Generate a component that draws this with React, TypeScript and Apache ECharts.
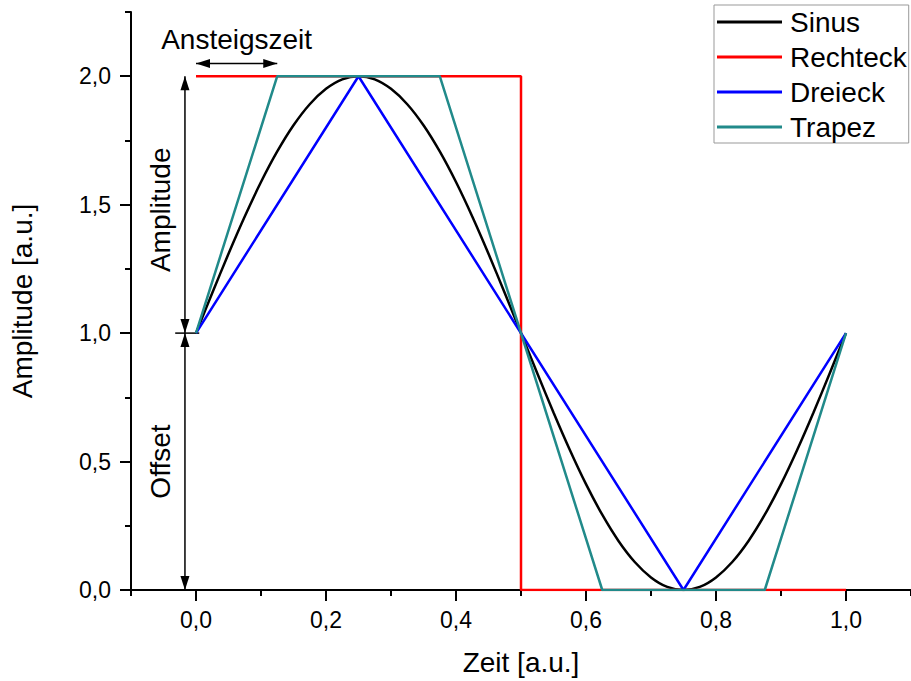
import React, { useEffect, useRef } from 'react';
import * as echarts from 'echarts';

const seriesNames = ['Sinus', 'Rechteck', 'Dreieck', 'Trapez'];
const seriesColors = ['#000000', '#ff0000', '#0000ff', '#218a8a'];

const sinusX = [0, 0.025, 0.05, 0.075, 0.1, 0.125, 0.15, 0.175, 0.2, 0.225, 0.25, 0.275, 0.3, 0.325, 0.35, 0.375, 0.4, 0.425, 0.45, 0.475, 0.5, 0.525, 0.55, 0.575, 0.6, 0.625, 0.65, 0.675, 0.7, 0.725, 0.75, 0.775, 0.8, 0.825, 0.85, 0.875, 0.9, 0.925, 0.95, 0.975, 1.0];
const sinusY = [1, 1.156, 1.309, 1.454, 1.588, 1.707, 1.809, 1.891, 1.951, 1.988, 2, 1.988, 1.951, 1.891, 1.809, 1.707, 1.588, 1.454, 1.309, 1.156, 1, 0.844, 0.691, 0.546, 0.412, 0.293, 0.191, 0.109, 0.049, 0.012, 0, 0.012, 0.049, 0.109, 0.191, 0.293, 0.412, 0.546, 0.691, 0.844, 1];

const rechteckX = [0, 0.5, 0.5, 1.0];
const rechteckY = [2, 2, 0, 0];

const dreieckX = [0, 0.25, 0.75, 1.0];
const dreieckY = [1, 2, 0, 1];

const trapezX = [0, 0.125, 0.375, 0.625, 0.875, 1.0];
const trapezY = [1, 2, 2, 0, 0, 1];

const xMajorTicks = [0, 0.2, 0.4, 0.6, 0.8, 1.0];
const xMinorTicks = [-0.1, 0.1, 0.3, 0.5, 0.7, 0.9, 1.1];
const yMajorTicks = [0, 0.5, 1.0, 1.5, 2.0];
const yMinorTicks = [0.25, 0.75, 1.25, 1.75, 2.25];

const xTitle = 'Zeit [a.u.]';
const yTitle = 'Amplitude [a.u.]';
const riseLabel = 'Ansteigszeit';
const ampLabel = 'Amplitude';
const offsetLabel = 'Offset';

const FONT = '"Liberation Sans", Arial, sans-serif';

const zip = (xs: number[], ys: number[]) => xs.map((x, i) => [x, ys[i]]);
const fmt = (v: number) => v.toFixed(1).replace('.', ',');

export default function App() {
  const ref = useRef<HTMLDivElement>(null);
  useEffect(() => {
    document.body.style.margin = '0';
    const chart = echarts.init(ref.current!, undefined, { renderer: 'svg' });
    const seriesData = [zip(sinusX, sinusY), zip(rechteckX, rechteckY), zip(dreieckX, dreieckY), zip(trapezX, trapezY)];
    const axisLine = { onZero: false, lineStyle: { color: '#000', width: 2 } };
    chart.setOption({
      animation: false,
      grid: { left: 130.5, top: 12, width: 786, height: 578 },
      legend: {
        orient: 'vertical',
        left: 714,
        top: 5,
        icon: 'rect',
        itemWidth: 65,
        itemHeight: 3,
        itemGap: 7,
        padding: [3, 2, 2, 3],
        borderColor: '#999',
        borderWidth: 1,
        selectedMode: false,
        textStyle: { fontFamily: FONT, fontSize: 28, color: '#000', lineHeight: 28, padding: [0, 0, 0, 3] },
        data: seriesNames,
      },
      xAxis: [
        {
          type: 'value', min: -0.1, max: 1.1, interval: 0.1,
          name: xTitle, nameLocation: 'middle', nameGap: 58,
          nameTextStyle: { fontFamily: FONT, fontSize: 28, color: '#000' },
          axisLine,
          splitLine: { show: false },
          axisTick: { customValues: xMajorTicks, length: 11, lineStyle: { color: '#000', width: 2 } },
          axisLabel: { customValues: xMajorTicks, formatter: fmt, fontFamily: FONT, fontSize: 23, color: '#000', margin: 18 },
        },
        {
          type: 'value', min: -0.1, max: 1.1, interval: 0.1, position: 'bottom',
          axisLine: { show: false, onZero: false },
          splitLine: { show: false },
          axisTick: { customValues: xMinorTicks, length: 6, lineStyle: { color: '#000', width: 2 } },
          axisLabel: { show: false },
        },
      ],
      yAxis: [
        {
          type: 'value', min: 0, max: 2.25, interval: 0.25,
          name: yTitle, nameLocation: 'middle', nameGap: 95,
          nameTextStyle: { fontFamily: FONT, fontSize: 28, color: '#000' },
          axisLine,
          splitLine: { show: false },
          axisTick: { customValues: yMajorTicks, length: 11, lineStyle: { color: '#000', width: 2 } },
          axisLabel: { customValues: yMajorTicks, formatter: fmt, fontFamily: FONT, fontSize: 23, color: '#000', margin: 20 },
        },
        {
          type: 'value', min: 0, max: 2.25, interval: 0.25, position: 'left',
          axisLine: { show: false, onZero: false },
          splitLine: { show: false },
          axisTick: { customValues: yMinorTicks, length: 6, lineStyle: { color: '#000', width: 2 } },
          axisLabel: { show: false },
        },
      ],
      series: seriesNames.map((name, i) => ({
        name,
        type: 'line',
        data: seriesData[i],
        color: seriesColors[i],
        lineStyle: { color: seriesColors[i], width: 2.5 },
        smooth: i === 0 ? 0.3 : false,
        showSymbol: false,
        symbol: 'none',
        xAxisIndex: 0,
        yAxisIndex: 0,
      })),
    });

    const P = (x: number, y: number) => chart.convertToPixel({ xAxisIndex: 0, yAxisIndex: 0 }, [x, y]) as number[];
    const L = 14, W = 4.5;
    const head = (tip: number[], dx: number, dy: number) => ({
      type: 'polygon',
      shape: {
        points: [
          tip,
          [tip[0] - dx * L - dy * W, tip[1] - dy * L + dx * W],
          [tip[0] - dx * L + dy * W, tip[1] - dy * L - dx * W],
        ],
      },
      style: { fill: '#000' },
    });
    const seg = (a: number[], b: number[]) => ({
      type: 'line',
      shape: { x1: a[0], y1: a[1], x2: b[0], y2: b[1] },
      style: { stroke: '#000', lineWidth: 1.5 },
    });
    const annotX = -0.017;
    const top = P(annotX, 2), mid = P(annotX, 1), bot = P(annotX, 0);
    const h1 = P(0, 2.05), h2 = P(0.125, 2.05);
    const t1 = P(-0.032, 1), t2 = P(0.005, 1);
    const ampC = P(-0.055, 1.48), offC = P(-0.055, 0.5);
    const riseC = P(0.0625, 2.05);
    chart.setOption({
      graphic: [
        seg(top, mid), head(top, 0, -1), head(mid, 0, 1),
        seg(mid, bot), head(mid, 0, -1), head(bot, 0, 1),
        seg(t1, t2),
        seg(h1, h2), head(h1, -1, 0), head(h2, 1, 0),
        { type: 'text', x: riseC[0], y: riseC[1] - 24, style: { text: riseLabel, font: `28px ${FONT}`, fill: '#000', align: 'center', verticalAlign: 'middle' } },
        { type: 'text', x: ampC[0], y: ampC[1], rotation: Math.PI / 2, style: { text: ampLabel, font: `28px ${FONT}`, fill: '#000', align: 'center', verticalAlign: 'middle' } },
        { type: 'text', x: offC[0], y: offC[1], rotation: Math.PI / 2, style: { text: offsetLabel, font: `28px ${FONT}`, fill: '#000', align: 'center', verticalAlign: 'middle' } },
      ],
    });
    return () => chart.dispose();
  }, []);
  return <div ref={ref} style={{ width: 911, height: 681 }} />;
}
